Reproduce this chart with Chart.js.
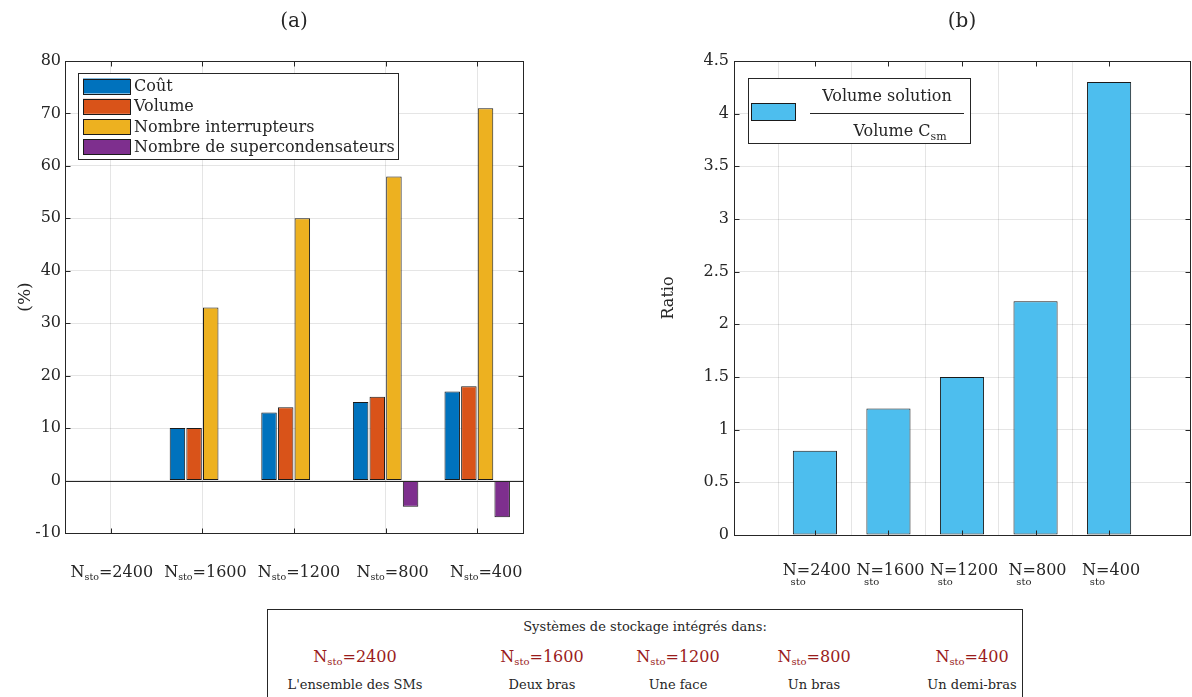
<!DOCTYPE html>
<html><head><meta charset="utf-8">
<script src="https://cdn.jsdelivr.net/npm/chart.js@4.4.1/dist/chart.umd.min.js"></script>
<style>
html,body{margin:0;padding:0;background:#fff;width:1192px;height:697px;overflow:hidden;}
#wa{position:absolute;left:0;top:0;width:600px;height:600px;}
#wb{position:absolute;left:600px;top:0;width:592px;height:600px;}
#box{position:absolute;left:267px;top:609px;width:756px;height:100px;border:1px solid #262626;box-sizing:border-box;font-family:'DejaVu Serif';color:#262626;}
.t{position:absolute;white-space:nowrap;transform:translate(-50%,-50%);line-height:1;}
.red{color:#9A1C1C;font-size:16px;}
.red sub{font-size:10px;vertical-align:-3px;}
.desc{font-size:13px;}
.hdr{font-size:13px;}
</style></head><body>
<div id="wa"><canvas id="ca"></canvas></div>
<div id="wb"><canvas id="cb"></canvas></div>
<div id="box"></div>
<script>
// ---------- data ----------
const categories = ['2400','1600','1200','800','400'];
const seriesNames = ['Coût','Volume','Nombre interrupteurs','Nombre de supercondensateurs'];
const cout = [0,10,13,15,17];
const volume = [0,10,14,16,18];
const interrupteurs = [0,33,50,58,71];
const supercondensateurs = [0,0,0,-5,-7];
const ratio = [0.8,1.2,1.5,2.22,4.3];
const descriptions = ["L'ensemble des SMs",'Deux bras','Une face','Un bras','Un demi-bras'];
const boxHeader = 'Systèmes de stockage intégrés dans:';
const legendB = ['Volume solution','Volume C','sm'];

// ---------- styles ----------
const colorsA = ['#0072BD','#D95319','#EDB120','#7E2F8E'];
const colorB = '#4DBEEE';
const INK = '#262626';
const GRID = 'rgba(38,38,38,0.12)';
const FONT = '"DejaVu Serif"';

function line(ctx,x1,y1,x2,y2){ctx.beginPath();ctx.moveTo(x1,y1);ctx.lineTo(x2,y2);ctx.stroke();}
function crisp(v){return Math.round(v)+0.5;}

function drawFrameAndTicks(chart, xPositions){
  const {ctx, chartArea:a, scales} = chart;
  ctx.save();
  ctx.strokeStyle = INK; ctx.lineWidth = 1;
  const L=crisp(a.left), R=crisp(a.right), T=crisp(a.top), B=crisp(a.bottom);
  ctx.strokeRect(L,T,R-L,B-T);
  scales.y.ticks.forEach(t=>{
    const py = crisp(scales.y.getPixelForValue(t.value));
    line(ctx,L,py,L+5,py); line(ctx,R-5,py,R,py);
  });
  xPositions.forEach(px=>{
    px = crisp(px);
    line(ctx,px,B,px,B-5); line(ctx,px,T,px,T+5);
  });
  ctx.restore();
}

function drawNsto(ctx,cx,y,value,mainSize,subSize,subDy,below){
  const mf = mainSize+'px '+FONT, sf = subSize+'px '+FONT;
  ctx.font = mf; const wN = ctx.measureText('N').width; const wR = ctx.measureText('='+value).width;
  ctx.font = sf; const wS = ctx.measureText('sto').width;
  const total = below ? wN+wR : wN+wS+wR;
  let x = cx - total/2;
  ctx.fillStyle = INK; ctx.textAlign='left'; ctx.textBaseline='alphabetic';
  ctx.font = mf; ctx.fillText('N',x,y);
  ctx.font = sf; ctx.fillText('sto', below ? x+wN*0.55 : x+wN, y+subDy);
  ctx.font = mf; ctx.fillText('='+value, below ? x+wN : x+wN+wS, y);
}

function yTitle(ctx,text,x,y,size){
  ctx.save(); ctx.translate(x,y); ctx.rotate(-Math.PI/2);
  ctx.font = size+'px '+FONT; ctx.fillStyle=INK; ctx.textAlign='center'; ctx.textBaseline='middle';
  ctx.fillText(text,0,0); ctx.restore();
}
function title(ctx,text,x,y){
  ctx.font = '20px '+FONT; ctx.fillStyle=INK; ctx.textAlign='center'; ctx.textBaseline='middle';
  ctx.fillText(text,x,y);
}
const fmt = v => String(Math.round(v*100)/100);

// ---------- chart (a) ----------
const plugA = {
  id:'plugA',
  afterDatasetsDraw(chart){
    const {ctx, chartArea:a, scales} = chart;
    const y0 = crisp(scales.y.getPixelForValue(0));
    ctx.save(); ctx.strokeStyle=INK; ctx.lineWidth=1; line(ctx,a.left,y0,a.right,y0); ctx.restore();
    const xs = categories.map((c,i)=>scales.x.getPixelForValue(i));
    drawFrameAndTicks(chart, xs);
    ctx.save();
    // legend
    const lx=78, ly=73, lw=320, lh=86;
    ctx.fillStyle='#fff'; ctx.fillRect(lx,ly,lw,lh);
    ctx.strokeStyle=INK; ctx.strokeRect(lx+0.5,ly+0.5,lw,lh);
    chart.data.datasets.forEach((ds,i)=>{
      const cy = 86 + i*20.3;
      ctx.fillStyle = ds.backgroundColor; ctx.fillRect(83,cy-7.5,47,15);
      ctx.strokeStyle = '#1a1a1a'; ctx.strokeRect(83.5,Math.round(cy-7.5)+0.5,47,15);
      ctx.fillStyle = INK; ctx.font='16px '+FONT; ctx.textAlign='left'; ctx.textBaseline='middle';
      ctx.fillText(ds.label,134,cy+1);
    });
    // x labels
    xs.forEach((px,i)=>drawNsto(ctx,px+1+i*2,577,categories[i],16,9.5,3,false));
    yTitle(ctx,'(%)',26,(a.top+a.bottom)/2,17);
    title(ctx,'(a)',(a.left+a.right)/2,22);
    ctx.restore();
  }
};

new Chart(document.getElementById('ca'),{
  type:'bar',
  data:{
    labels:categories,
    datasets:[cout,volume,interrupteurs,supercondensateurs].map((d,i)=>({
      label:seriesNames[i], data:d, backgroundColor:colorsA[i], borderColor:'#1a1a1a',
      borderWidth:1, borderSkipped:false, categoryPercentage:0.727, barPercentage:0.93
    }))
  },
  options:{
    responsive:true, maintainAspectRatio:false, animation:false,
    layout:{padding:{top:61,right:77,bottom:0,left:0}},
    plugins:{legend:{display:false},tooltip:{enabled:false}},
    scales:{
      x:{ grid:{offset:false,color:GRID,drawTicks:false}, border:{display:false},
          ticks:{display:false}, afterFit(s){s.height=67;} },
      y:{ min:-10,max:80, grid:{color:GRID,drawTicks:false}, border:{display:false},
          ticks:{stepSize:10,color:INK,font:{family:'DejaVu Serif',size:16},padding:4,callback:fmt},
          afterFit(s){s.width=65;} }
    }
  },
  plugins:[plugA]
});

// ---------- chart (b) ----------
const plugB = {
  id:'plugB',
  afterDatasetsDraw(chart){
    const {ctx, chartArea:a, scales} = chart;
    const xs = categories.map((c,i)=>scales.x.getPixelForValue(i+1));
    drawFrameAndTicks(chart, xs);
    ctx.save();
    // legend
    const lx=148, ly=78, lw=222, lh=65;
    ctx.fillStyle='#fff'; ctx.fillRect(lx,ly,lw,lh);
    ctx.strokeStyle=INK; ctx.lineWidth=1; ctx.strokeRect(lx+0.5,ly+0.5,lw,lh);
    ctx.fillStyle=colorB; ctx.fillRect(151,103,44,17);
    ctx.strokeStyle='#1a1a1a'; ctx.strokeRect(151.5,103.5,44,17);
    ctx.strokeStyle=INK; line(ctx,210,113.5,364,113.5);
    ctx.fillStyle=INK; ctx.font='16px '+FONT; ctx.textAlign='center'; ctx.textBaseline='middle';
    ctx.fillText(legendB[0],287,97);
    ctx.font='16px '+FONT; const w1=ctx.measureText(legendB[1]).width;
    ctx.font='11px '+FONT; const w2=ctx.measureText(legendB[2]).width;
    let x0 = 300-(w1+w2)/2;
    ctx.textAlign='left'; ctx.textBaseline='alphabetic';
    ctx.font='16px '+FONT; ctx.fillText(legendB[1],x0,136);
    ctx.font='11px '+FONT; ctx.fillText(legendB[2],x0+w1,140);
    xs.forEach((px,i)=>drawNsto(ctx,px+2,575,categories[i],16,10,10,true));
    yTitle(ctx,'Ratio',69,(a.top+a.bottom)/2,16);
    title(ctx,'(b)',(a.left+a.right)/2,22);
    ctx.restore();
  }
};

new Chart(document.getElementById('cb'),{
  type:'bar',
  data:{
    datasets:[{
      label:legendB[0], data:ratio.map((v,i)=>({x:i+1,y:v})),
      backgroundColor:colorB, borderColor:'#1a1a1a', borderWidth:1, borderSkipped:false,
      categoryPercentage:0.8, barPercentage:0.75
    }]
  },
  options:{
    responsive:true, maintainAspectRatio:false, animation:false,
    layout:{padding:{top:61,right:2,bottom:0,left:0}},
    plugins:{legend:{display:false},tooltip:{enabled:false}},
    scales:{
      x:{ type:'linear', min:-0.1, max:6.1, offset:false,
          grid:{drawTicks:false,color:(c)=> (c.tick && c.tick.value>=1 && c.tick.value<=5) ? GRID : 'rgba(0,0,0,0)'},
          border:{display:false},
          ticks:{display:false,stepSize:1,includeBounds:false}, afterFit(s){s.height=65;} },
      y:{ min:0,max:4.5, grid:{color:GRID,drawTicks:false}, border:{display:false},
          ticks:{stepSize:0.5,color:INK,font:{family:'DejaVu Serif',size:16},padding:5,callback:fmt},
          afterFit(s){s.width=134;} }
    }
  },
  plugins:[plugB]
});

// ---------- bottom box ----------
const boxLayout = {header:[377,16], centers:[87,274,410,546,704], redY:48, descY:74};
const box = document.getElementById('box');
let html = '<div class="t hdr" style="left:'+boxLayout.header[0]+'px;top:'+boxLayout.header[1]+'px">'+boxHeader+'</div>';
categories.forEach((c,i)=>{
  html += '<div class="t red" style="left:'+boxLayout.centers[i]+'px;top:'+boxLayout.redY+'px">N<sub>sto</sub>='+c+'</div>';
  html += '<div class="t desc" style="left:'+boxLayout.centers[i]+'px;top:'+boxLayout.descY+'px">'+descriptions[i].replace(/'/g,'&#39;')+'</div>';
});
box.innerHTML = html;
</script>
</body></html>
